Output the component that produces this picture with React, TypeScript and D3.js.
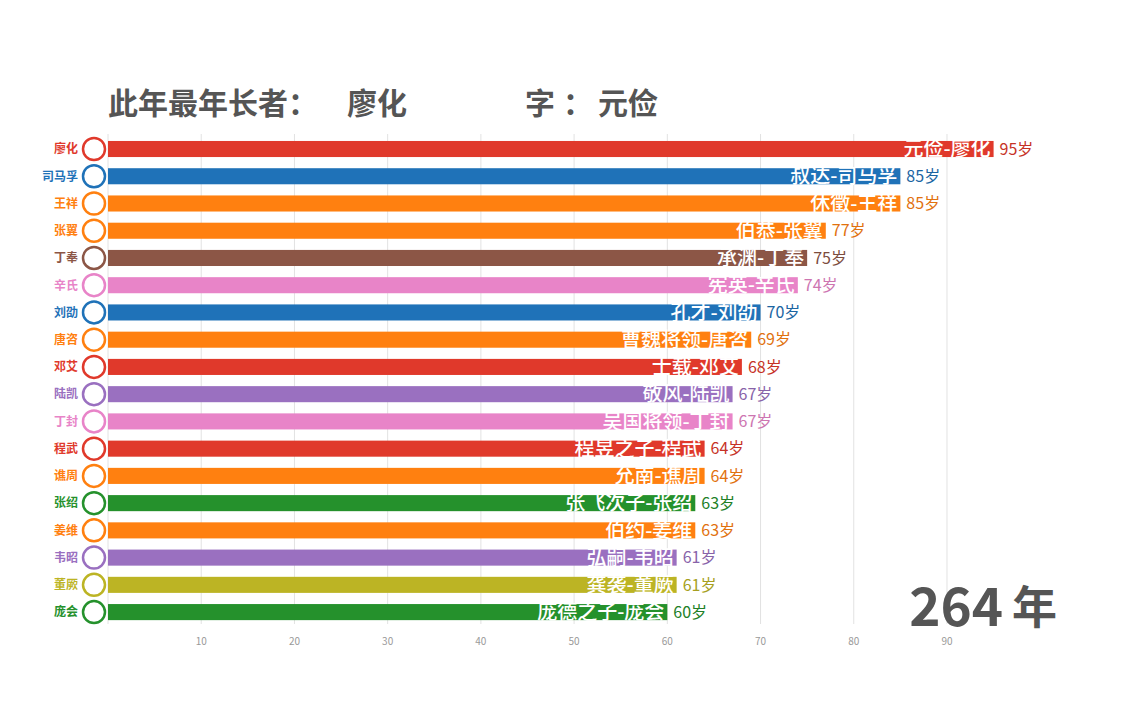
import React from 'react';
import * as d3 from 'd3';

const names = ['廖化', '司马孚', '王祥', '张翼', '丁奉', '辛氏', '刘劭', '唐咨', '邓艾', '陆凯', '丁封', '程武', '谯周', '张绍', '姜维', '韦昭', '董厥', '庞会'];
const ziNames = ['元俭', '叔达', '休徵', '伯恭', '承渊', '宪英', '孔才', '曹魏将领', '士载', '敬风', '吴国将领', '程昱之子', '允南', '张飞次子', '伯约', '弘嗣', '龚袭', '庞德之子'];
const ages = [95, 85, 85, 77, 75, 74, 70, 69, 68, 67, 67, 64, 64, 63, 63, 61, 61, 60];
const groups = ['red', 'blue', 'orange', 'orange', 'brown', 'pink', 'blue', 'orange', 'red', 'purple', 'pink', 'red', 'orange', 'green', 'orange', 'purple', 'olive', 'green'];
const ticks = [10, 20, 30, 40, 50, 60, 70, 80, 90];

const palette: Record<string, string> = {
  red: '#e0392b',
  blue: '#1f72b8',
  orange: '#ff8010',
  brown: '#8c5646',
  pink: '#e884c8',
  purple: '#9a70c0',
  olive: '#bcb424',
  green: '#25912c',
};

const year = '264';
const titleName = '廖化';
const titleZi = '元俭';

const FONT = '"Noto Sans CJK SC", "Noto Sans", sans-serif';

const App = () => {
  const W = 1146;
  const H = 716;

  const x = d3.scaleLinear().domain([0, 100]).range([108, 1040.2]);
  const y = d3.scaleBand<string>().domain(names).range([129.8, 631.3]).padding(0.41);
  const bh = y.bandwidth();

  return (
    <svg width={W} height={H} style={{ position: 'absolute', left: 0, top: 0, background: '#fff' }} fontFamily={FONT}>
      {/* grid */}
      {[0, ...ticks].map((t) => (
        <line key={t} x1={x(t)} x2={x(t)} y1={134} y2={624} stroke="#e2e2e2" strokeWidth={1} />
      ))}
      {ticks.map((t) => (
        <text key={t} x={x(t)} y={645} textAnchor="middle" fontSize={10} fill="#999">{t}</text>
      ))}

      {/* title */}
      <text x={108} y={114} fontSize={30} fontWeight="bold" fill="#555">此年最年长者：</text>
      <text x={347} y={114} fontSize={30} fontWeight="bold" fill="#555">{titleName}</text>
      <text x={525} y={114} fontSize={30} fontWeight="bold" fill="#555">字</text>
      <text x={563} y={114} fontSize={30} fontWeight="bold" fill="#555">：</text>
      <text x={598} y={114} fontSize={30} fontWeight="bold" fill="#555">{titleZi}</text>

      {/* bars */}
      {names.map((n, i) => {
        const c = palette[groups[i]];
        const dark = d3.color(c)!.darker(0.35).formatHex();
        const yc = (y(n) as number) + bh / 2;
        const xe = x(ages[i]);
        return (
          <g key={n}>
            <rect x={x(0)} y={y(n)} width={xe - x(0)} height={bh} fill={c} />
            <circle cx={94} cy={yc} r={11} fill="#fff" stroke={c} strokeWidth={2.5} />
            <text x={78} y={yc} dy="0.36em" textAnchor="end" fontSize={12} fontWeight="bold" fill={c}>{n}</text>
            <text x={xe - 3} y={yc} dy="0.36em" textAnchor="end" fontSize={20} fontWeight={500} fill="#fff">{ziNames[i]}-{n}</text>
            <text x={xe + 6} y={yc} dy="0.36em" fontSize={16} fill={dark}>{ages[i]}岁</text>
          </g>
        );
      })}

      {/* year */}
      <text x={1003} y={626} textAnchor="end" fontSize={53} fontWeight="bold" fill="#555">{year}</text>
      <text x={1012} y={624} fontSize={45} fontWeight="bold" fill="#555">年</text>
    </svg>
  );
};

export default App;
